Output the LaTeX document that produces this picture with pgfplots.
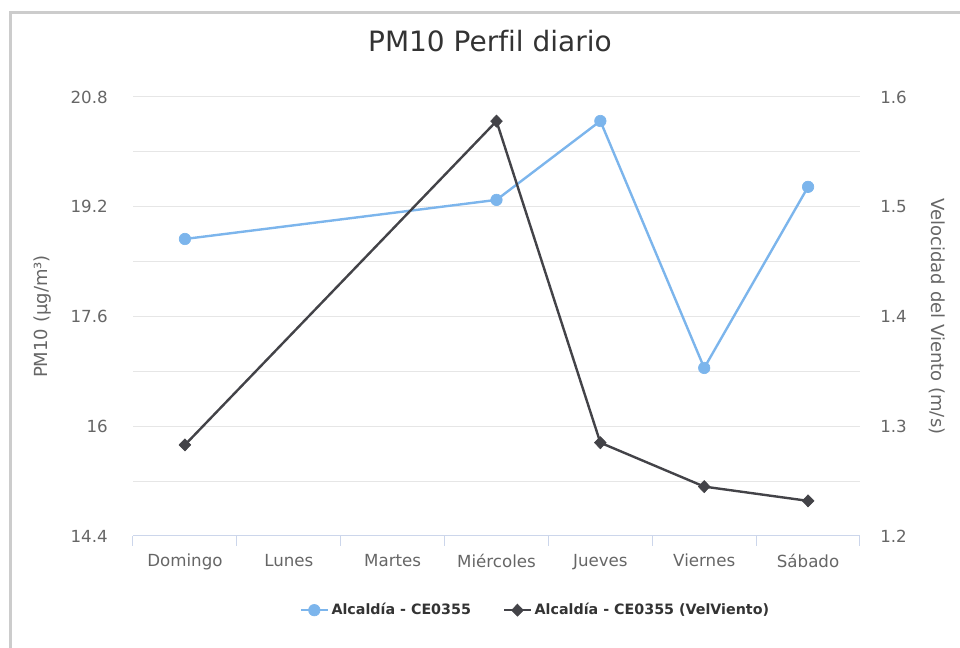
\documentclass[border=0pt]{standalone}
\usepackage{fontspec}
\setmainfont{DejaVu Sans}[Ligatures=NoCommon]
\usepackage{pgfplots}
\pgfplotsset{compat=1.18}
\definecolor{hcblue}{HTML}{7CB5EC}
\definecolor{hcdark}{HTML}{434348}
\definecolor{hcgrid}{HTML}{E6E6E6}
\definecolor{hcaxis}{HTML}{CCD6EB}
\definecolor{hclabel}{HTML}{666666}
\definecolor{hctitle}{HTML}{333333}
\definecolor{frame}{HTML}{CCCCCC}

\pgfplotsset{
  base/.style={
    at={(99.75pt,84pt)}, anchor=south west,
    scale only axis, width=545.25pt, height=329.25pt,
    xmin=-0.5, xmax=6.5,
    /pgf/number format/assume math mode=true,
    tick label style={font=\fontsize{12.5}{14}\selectfont, color=hclabel},
    label style={font=\fontsize{13.5}{15}\selectfont, color=hclabel},
  },
  windmark/.style={color=hcdark, line width=1.8pt, mark=diamond*, mark size=4.5pt,
    mark options={fill=hcdark, draw=hcdark, line width=0.5pt, xscale=1.3}},
}

\begin{document}
\begin{tikzpicture}
\useasboundingbox (0,0) rectangle (720pt,486pt);
\draw[line width=2.25pt, color=frame] (7.5pt,0) -- (7.5pt,476.25pt) -- (721pt,476.25pt);

% PM10 (left axis)
\begin{axis}[
  base,
  axis x line*=bottom, axis y line*=left,
  x axis line style={color=hcaxis, line width=0.75pt},
  y axis line style={draw=none},
  ymin=14.4, ymax=20.8,
  ytick={14.4,16,17.6,19.2,20.8},
  yticklabels={14.4,16,17.6,19.2,20.8},
  minor ytick={15.2,16.8,18.4,20.0},
  ymajorgrids, yminorgrids,
  major grid style={color=hcgrid, line width=0.75pt},
  minor grid style={color=hcgrid, line width=0.75pt},
  ytick style={draw=none}, minor y tick style={draw=none},
  yticklabel style={anchor=east, inner sep=0pt, xshift=-18.75pt},
  xtick={0,...,6},
  xticklabels={Domingo,Lunes,Martes,Miércoles,Jueves,Viernes,Sábado},
  xtick style={draw=none},
  xticklabel style={anchor=north, inner sep=0pt, yshift=-13.5pt},
  extra x ticks={-0.5,0.5,1.5,2.5,3.5,4.5,5.5,6.5},
  extra x tick labels={},
  extra x tick style={grid=none, tick align=outside, major tick length=7.5pt,
    xtick style={draw=hcaxis, line width=0.75pt}},
  ylabel={PM10 (µg/m³)},
  ylabel style={at={(axis description cs:-0.124,0.5)}, anchor=center, rotate=0},
  title={PM10 Perfil diario},
  title style={at={(axis description cs:0.491,1.11)}, anchor=center,
    font=\fontsize{21}{24}\selectfont, color=hctitle},
  legend columns=2,
  legend style={draw=none, at={(axis description cs:0.554,-0.169)}, anchor=center,
    font=\bfseries\fontsize{10.7}{12}\selectfont, text=hctitle,
    /tikz/every even column/.append style={column sep=22pt}},
  legend image code/.code={\draw[line width=1.8pt, mark repeat=2, mark phase=2]
    plot coordinates {(0pt,0pt) (10pt,0pt) (20pt,0pt)};},
]
\addplot[color=hcblue, line width=1.8pt, mark=*, mark size=4.3pt,
  mark options={fill=hcblue, draw=hcblue, line width=0.5pt}]
  coordinates {(0,18.73) (3,19.30) (4,20.45) (5,16.85) (6,19.49)};
\addlegendentry{Alcaldía - CE0355}
\addlegendimage{windmark}
\addlegendentry{Alcaldía - CE0355 (VelViento)}
\end{axis}

% Wind speed (right axis)
\begin{axis}[
  base,
  axis x line=none, axis y line*=right,
  y axis line style={draw=none},
  ymin=1.2, ymax=1.6,
  ytick={1.2,1.3,1.4,1.5,1.6},
  yticklabels={1.2,1.3,1.4,1.5,1.6},
  ytick style={draw=none},
  yticklabel style={anchor=west, inner sep=0pt, xshift=15pt},
  ylabel={Velocidad del Viento (m/s)},
  ylabel style={at={(axis description cs:1.106,0.5)}, anchor=center, rotate=180},
]
\addplot[windmark]
  coordinates {(0,1.283) (3,1.578) (4,1.285) (5,1.245) (6,1.232)};
\end{axis}
\end{tikzpicture}
\end{document}
